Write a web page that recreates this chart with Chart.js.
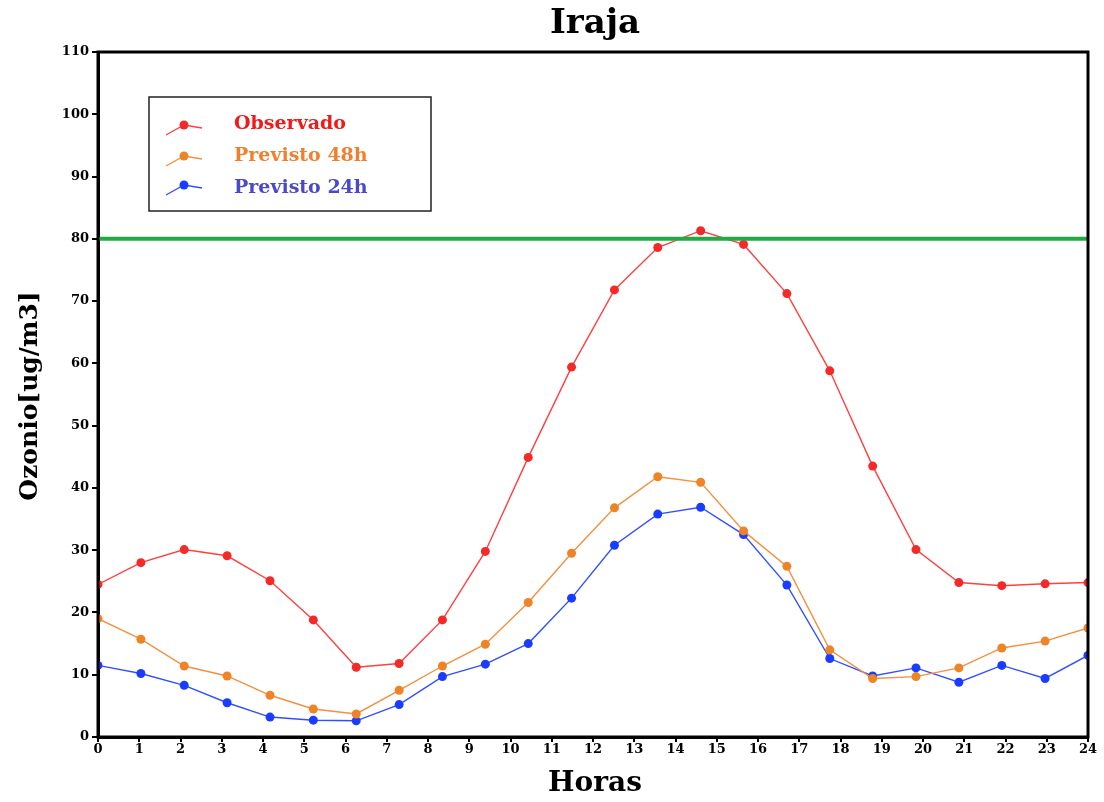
<!DOCTYPE html>
<html><head><meta charset="utf-8">
<script src="https://cdn.jsdelivr.net/npm/chart.js@4/dist/chart.umd.min.js"></script>
<style>html,body{margin:0;padding:0;background:#fff;}canvas{display:block;}</style>
</head><body>
<canvas id="c" width="1104" height="802"></canvas>
<script>
// x positions (hours) of the 24 readings
const hours = [0,1.04,2.09,3.13,4.17,5.22,6.26,7.3,8.35,9.39,10.43,11.48,12.52,13.57,14.61,15.65,16.7,17.74,18.78,19.83,20.87,21.91,22.96,24];
const observado = [24.5,28.0,30.1,29.1,25.1,18.8,11.2,11.8,18.8,29.8,44.9,59.4,71.8,78.6,81.3,79.1,71.2,58.8,43.5,30.1,24.8,24.3,24.6,24.8];
const previsto48 = [19.0,15.7,11.4,9.8,6.7,4.5,3.7,7.5,11.4,14.9,21.6,29.5,36.8,41.8,40.9,33.1,27.4,14.0,9.4,9.7,11.1,14.3,15.4,17.5];
const previsto24 = [11.5,10.2,8.3,5.5,3.2,2.7,2.6,5.2,9.7,11.7,15.0,22.3,30.8,35.8,36.9,32.5,24.4,12.6,9.8,11.1,8.8,11.5,9.4,13.1];
const limitX = [0,24];
const limitY = [80,80];
const xTicks = [0,1,2,3,4,5,6,7,8,9,10,11,12,13,14,15,16,17,18,19,20,21,22,23,24];
const yTicks = [0,10,20,30,40,50,60,70,80,90,100,110];
const seriesNames = ['Observado','Previsto 48h','Previsto 24h'];

const pts = (xs, ys) => xs.map((x,i)=>({x:x,y:ys[i]}));
const FONT = '"DejaVu Serif", "Liberation Serif", serif';

const series = [
  {name:seriesNames[0], data:observado, line:'#ff4040', pt:'#f42a2a', text:'#f01a1a'},
  {name:seriesNames[1], data:previsto48, line:'#f29040', pt:'#ee8426', text:'#f08030'},
  {name:seriesNames[2], data:previsto24, line:'#3050ff', pt:'#1a3cff', text:'#4a4ac8'}
];

const decor = {
  id:'decor',
  afterDraw(chart){
    const ctx = chart.ctx, a = chart.chartArea;
    ctx.save();
    // frame
    ctx.strokeStyle = '#000'; ctx.lineWidth = 3;
    ctx.strokeRect(a.left, a.top, a.right - a.left, a.bottom - a.top);
    // title
    ctx.fillStyle = '#000';
    ctx.textAlign = 'center'; ctx.textBaseline = 'middle';
    ctx.font = 'bold 34px ' + FONT;
    ctx.fillText('Iraja', 595, 24);
    ctx.font = 'bold 28px ' + FONT;
    ctx.fillText('Horas', 595, 784);
    ctx.save();
    ctx.translate(30, 396); ctx.rotate(-Math.PI/2);
    ctx.font = 'bold 25px ' + FONT;
    ctx.fillText('Ozonio[ug/m3]', 0, 0);
    ctx.restore();
    // legend
    ctx.fillStyle = '#fff';
    ctx.fillRect(149, 97, 282, 114);
    ctx.strokeStyle = '#222'; ctx.lineWidth = 1.5;
    ctx.strokeRect(149, 97, 282, 114);
    const rows = [125, 156, 185];
    const textRows = [124, 156, 188];
    series.forEach((s, i) => {
      const y = rows[i];
      ctx.strokeStyle = s.line; ctx.lineWidth = 1.3;
      ctx.beginPath(); ctx.moveTo(166, y+10); ctx.lineTo(184, y); ctx.lineTo(202, y+3); ctx.stroke();
      ctx.fillStyle = s.pt;
      ctx.beginPath(); ctx.arc(184, y, 4.5, 0, Math.PI*2); ctx.fill();
      ctx.fillStyle = s.text;
      ctx.textAlign = 'left';
      ctx.font = 'bold 19px ' + FONT;
      ctx.fillText(s.name, 234, textRows[i]);
    });
    ctx.restore();
  }
};

const datasets = series.map(s => ({
  label: s.name,
  data: pts(hours, s.data),
  borderColor: s.line,
  backgroundColor: s.pt,
  pointBackgroundColor: s.pt,
  pointBorderColor: s.pt,
  pointRadius: 4.5,
  pointBorderWidth: 0,
  borderWidth: 1.4,
  tension: 0
}));
datasets.unshift({
  label:'limite',
  data: pts(limitX, limitY),
  borderColor:'#22aa44',
  borderWidth:4,
  pointRadius:0,
  tension:0
});

new Chart(document.getElementById('c'), {
  type:'line',
  data:{datasets:datasets},
  options:{
    responsive:false,
    animation:false,
    layout:{padding:{left:0,right:16,top:52,bottom:0}},
    plugins:{legend:{display:false}, tooltip:{enabled:false}, title:{display:false}},
    scales:{
      x:{
        type:'linear', min:0, max:24,
        afterBuildTicks(scale){ scale.ticks = xTicks.map(v=>({value:v})); },
        afterFit(scale){ scale.height = 65; },
        grid:{display:true, drawOnChartArea:false, drawTicks:true, tickLength:5, color:'#000', lineWidth:2},
        border:{display:true, color:'#000', width:3},
        ticks:{color:'#000', font:{family:FONT, weight:'bold', size:13}, padding:0, maxRotation:0, autoSkip:false}
      },
      y:{
        type:'linear', min:0, max:110,
        afterBuildTicks(scale){ scale.ticks = yTicks.map(v=>({value:v})); },
        afterFit(scale){ scale.width = 98; },
        grid:{display:true, drawOnChartArea:false, drawTicks:true, tickLength:6, color:'#000', lineWidth:2},
        border:{display:true, color:'#000', width:3},
        ticks:{color:'#000', font:{family:FONT, weight:'bold', size:13}, padding:3}
      }
    }
  },
  plugins:[decor]
});
</script>
</body></html>
